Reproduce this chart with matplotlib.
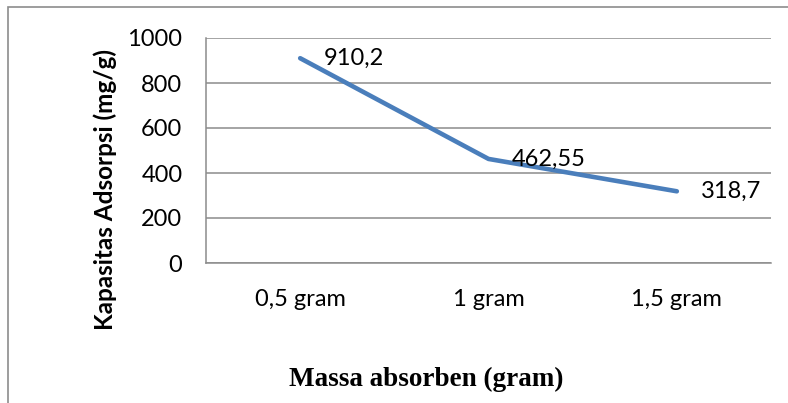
import matplotlib
matplotlib.use('Agg')
import matplotlib.pyplot as plt
from matplotlib.patches import Rectangle

categories = ['0,5 gram', '1 gram', '1,5 gram']
kapasitas = [910.2, 462.55, 318.7]
value_labels = ['910,2', '462,55', '318,7']
y_ticks = [0, 200, 400, 600, 800, 1000]

W, H = 788, 403
fig = plt.figure(figsize=(W / 100, H / 100), dpi=100)

# outer chart frame (only top and left edges fall inside the image)
fig.add_artist(Rectangle((8 / W, -0.05), 1.1, 1 - 7 / H + 0.05,
                         transform=fig.transFigure, fill=False,
                         edgecolor='#8c8c8c', linewidth=1.2))

ax = fig.add_axes([206 / W, 140 / H, 565 / W, 225 / H])
x = list(range(len(categories)))
ax.plot(x, kapasitas, color='#4a7ebb', linewidth=3.3,
        solid_capstyle='round', solid_joinstyle='round', zorder=3)

for xi, v, lab in zip(x, kapasitas, value_labels):
    ax.annotate(lab, (xi, v), xytext=(17, 0), textcoords='offset points',
                ha='left', va='center', fontsize=17, family='Lato', zorder=4)

ax.set_xlim(-0.5, len(categories) - 0.5)
ax.set_ylim(0, 1000)
ax.set_yticks(y_ticks)
ax.set_yticklabels([str(t) for t in y_ticks], fontsize=17, family='Lato')
ax.set_xticks(x)
ax.set_xticklabels(categories, fontsize=17, family='Lato')
ax.tick_params(axis='both', length=0)
ax.tick_params(axis='y', pad=17)
ax.tick_params(axis='x', pad=18.5)
ax.grid(axis='y', color='#8c8c8c', linewidth=1.1)
ax.set_axisbelow(True)
for side in ['top', 'right']:
    ax.spines[side].set_visible(False)
for side in ['left', 'bottom']:
    ax.spines[side].set_color('#8c8c8c')
    ax.spines[side].set_linewidth(1.1)

fig.text(105 / W, 1 - 190 / H, 'Kapasitas Adsorpsi (mg/g)', rotation=90,
         ha='center', va='center', fontsize=17.5, fontweight='bold', family='Lato')
fig.text(426 / W, 1 - 379 / H, 'Massa absorben (gram)', ha='center', va='center',
         fontsize=19.5, fontweight='bold', family='Liberation Serif')

fig.savefig('out.png', dpi=100)
